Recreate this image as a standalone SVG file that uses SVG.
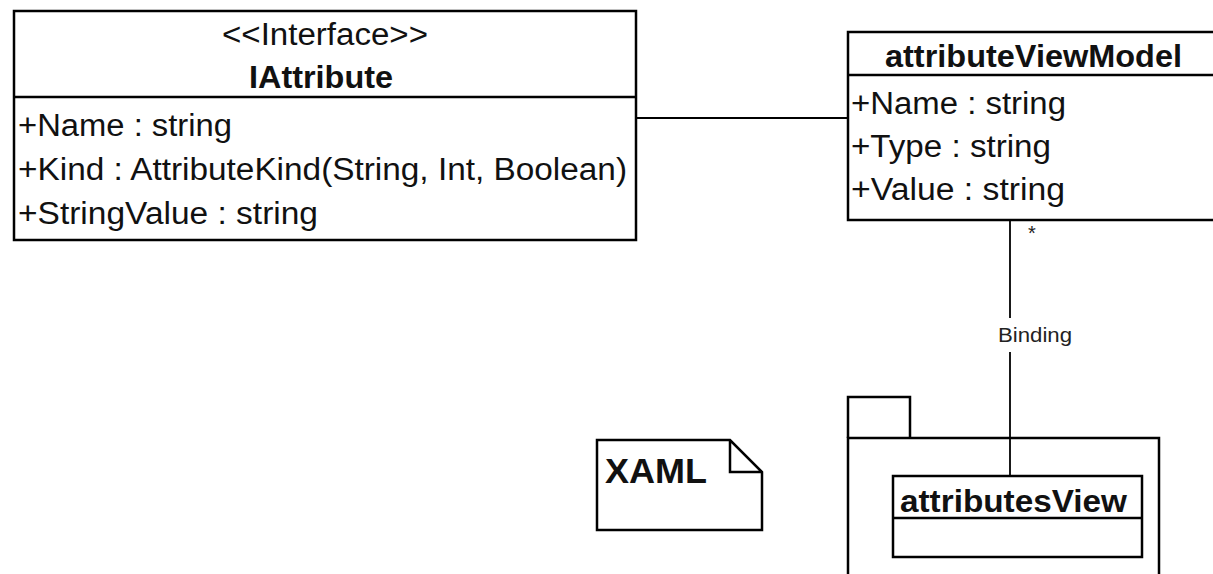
<svg xmlns="http://www.w3.org/2000/svg" width="1213" height="574" viewBox="0 0 1213 574">
<style>
.box{fill:#fff;stroke:#000;stroke-width:2.5}
.ln{fill:none;stroke:#000;stroke-width:2.5}
.t{font-family:"Liberation Sans",Arial,sans-serif;font-size:31px;fill:#111}
.b{font-family:"Liberation Sans",Arial,sans-serif;font-size:31px;font-weight:bold;fill:#111}
.c{fill:none;stroke:#000;stroke-width:1.8}
.s{font-family:"Liberation Sans",Arial,sans-serif;font-size:20px;fill:#222}
</style>
<rect width="1213" height="574" fill="#fff"/>
<g id="IAttribute">
<rect class="box" x="14" y="11" width="622" height="229"/>
<line class="ln" x1="14" y1="97" x2="636" y2="97"/>
<text class="t" x="325" y="45" text-anchor="middle" textLength="206" lengthAdjust="spacingAndGlyphs">&lt;&lt;Interface&gt;&gt;</text>
<text class="b" x="321" y="88" text-anchor="middle" textLength="144" lengthAdjust="spacingAndGlyphs">IAttribute</text>
<text class="t" x="18" y="136" textLength="214" lengthAdjust="spacingAndGlyphs">+Name : string</text>
<text class="t" x="18" y="180" textLength="609" lengthAdjust="spacingAndGlyphs">+Kind : AttributeKind(String, Int, Boolean)</text>
<text class="t" x="18" y="224" textLength="300" lengthAdjust="spacingAndGlyphs">+StringValue : string</text>
</g>
<g id="attributeViewModel">
<rect class="box" x="848" y="32" width="380" height="188"/>
<line class="ln" x1="848" y1="75" x2="1228" y2="75"/>
<text class="b" x="885" y="67" textLength="297" lengthAdjust="spacingAndGlyphs">attributeViewModel</text>
<text class="t" x="851" y="114" textLength="215" lengthAdjust="spacingAndGlyphs">+Name : string</text>
<text class="t" x="851" y="157" textLength="200" lengthAdjust="spacingAndGlyphs">+Type : string</text>
<text class="t" x="851" y="200" textLength="214" lengthAdjust="spacingAndGlyphs">+Value : string</text>
</g>
<g id="XAML">
<path class="ln" d="M597,440 H730 L762,472 V530 H597 Z M730,440 V472 H762"/>
<text class="b" x="605" y="483" style="font-size:35px" textLength="102" lengthAdjust="spacingAndGlyphs">XAML</text>
</g>
<g id="package">
<path class="ln" d="M848,438 V397 H910 V438"/>
<rect class="box" x="848" y="438" width="311" height="140"/>
</g>
<g id="attributesView">
<rect class="box" x="893" y="476" width="249" height="81"/>
<line class="ln" x1="893" y1="518" x2="1142" y2="518"/>
<text class="b" x="900" y="512" textLength="227" lengthAdjust="spacingAndGlyphs">attributesView</text>
</g>
<g id="connectors">
<line class="c" x1="636" y1="118" x2="848" y2="118"/>
<line class="c" x1="1010" y1="220" x2="1010" y2="318"/>
<line class="c" x1="1010" y1="352" x2="1010" y2="476"/>
<text class="s" x="1035" y="342" text-anchor="middle" textLength="74" lengthAdjust="spacingAndGlyphs">Binding</text>
<text class="s" x="1032" y="240" text-anchor="middle">*</text>
</g>
</svg>
